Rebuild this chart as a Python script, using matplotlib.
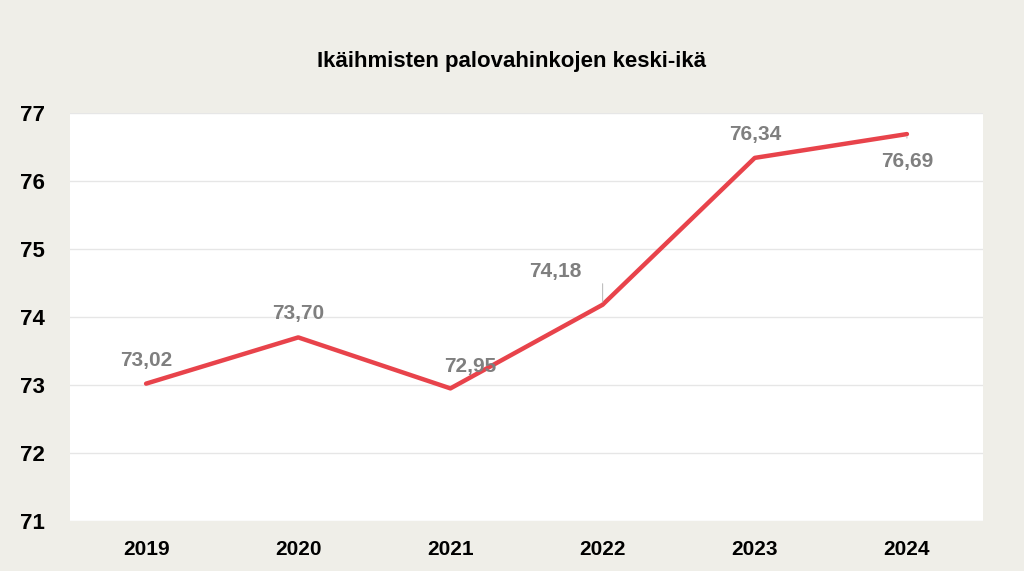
import matplotlib
matplotlib.use("Agg")
import matplotlib.pyplot as plt

years = ["2019", "2020", "2021", "2022", "2023", "2024"]
ages = [73.02, 73.70, 72.95, 74.18, 76.34, 76.69]
# label offsets in points (dx, dy)
offsets = [(0, 17), (0, 17), (14, 16), (-34, 24), (0, 17), (0, -20)]

fig = plt.figure(figsize=(10.24, 5.71), dpi=100)
fig.patch.set_facecolor("#efeee8")
ax = fig.add_axes([70/1024, 1-521/571, 913/1024, 408/571])
ax.set_facecolor("white")

x = list(range(len(years)))
ax.plot(x, ages, color="#e8434b", linewidth=3.2, solid_capstyle="round", zorder=3)

for i, v in enumerate(ages):
    dx, dy = offsets[i]
    lbl = f"{v:.2f}".replace(".", ",")
    ax.annotate(lbl, (i, v), xytext=(dx, dy), textcoords="offset points",
                ha="center", va="center", fontsize=15, fontweight="bold",
                color="#7f7f7f", family="Liberation Sans")
# leader lines
ax.annotate("", (3, ages[3]), xytext=(3, ages[3] + 0.35),
            arrowprops=dict(arrowstyle="-", color="#bfbfbf", lw=0.8))
ax.annotate("", (5, ages[5]), xytext=(5, ages[5] - 0.1),
            arrowprops=dict(arrowstyle="-", color="#bfbfbf", lw=0.8))

ax.set_xlim(-0.5, len(years) - 0.5)
ax.set_ylim(71, 77)
ax.set_yticks(range(71, 78))
ax.set_xticks(x)
ax.set_xticklabels(years)
ax.grid(axis="y", color="#e6e6e6", linewidth=1)
ax.set_axisbelow(True)
for s in ax.spines.values():
    s.set_visible(False)
ax.tick_params(length=0, labelsize=15, pad=14)
for t in ax.get_xticklabels() + ax.get_yticklabels():
    t.set_fontweight("bold")
    t.set_family("Liberation Sans")
ax.tick_params(axis="y", labelsize=16, pad=18)

fig.text(0.5, 1-62/571, "Ikäihmisten palovahinkojen keski-ikä", ha="center", va="center",
         fontsize=16, fontweight="bold", family="Liberation Sans")

fig.savefig("out.png", dpi=100, facecolor=fig.get_facecolor())
